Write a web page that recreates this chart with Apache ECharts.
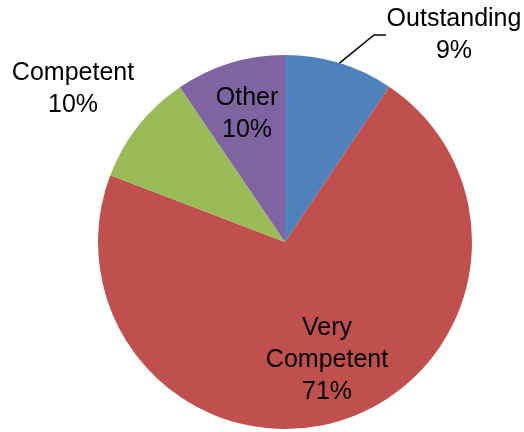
<!DOCTYPE html>
<html>
<head>
<meta charset="utf-8">
<script src="https://cdn.jsdelivr.net/npm/echarts@6/dist/echarts.min.js"></script>
<style>
  html, body { margin: 0; padding: 0; background: #fff; }
  #chart { width: 524px; height: 432px; }
</style>
</head>
<body>
<div id="chart"></div>
<script>
// slice names and shares, clockwise from 12 o'clock
const categories = ["Outstanding", "Very Competent", "Competent", "Other"];
const shares = [9.4, 71.4, 9.7, 9.5];
const sliceColors = ["#4F81BD", "#C0504D", "#9BBB59", "#8064A2"];

// where each label block is centred (label layout only)
const labelCentres = [[454, 35], [327, 360], [73, 89], [247, 114]];

const chart = echarts.init(document.getElementById("chart"), null, { renderer: "canvas" });

chart.setOption({
  backgroundColor: "#fff",
  animation: false,
  series: [{
    type: "pie",
    center: [285, 242],
    radius: 187,
    startAngle: 90,
    clockwise: true,
    avoidLabelOverlap: false,
    itemStyle: { borderWidth: 0 },
    label: {
      show: true,
      position: "outside",
      width: 136,
      overflow: "none",
      color: "#000",
      fontFamily: "Liberation Sans",
      fontSize: 25,
      lineHeight: 32,
      formatter: (p) => p.name.replace(" ", "\n") + "\n" + Math.round(p.percent) + "%",
    },
    labelLine: {
      show: true,
      length: 10,
      length2: 12,
      smooth: false,
      lineStyle: { color: "#000", width: 1.5 },
    },
    labelLayout: (p) => {
      const c = labelCentres[p.dataIndex];
      return { x: c[0], y: c[1], align: "center", verticalAlign: "middle" };
    },
    data: categories.map((name, i) => ({
      name,
      value: shares[i],
      itemStyle: { color: sliceColors[i] },
      labelLine: { show: i === 0 },
    })),
  }],
});
</script>
</body>
</html>
